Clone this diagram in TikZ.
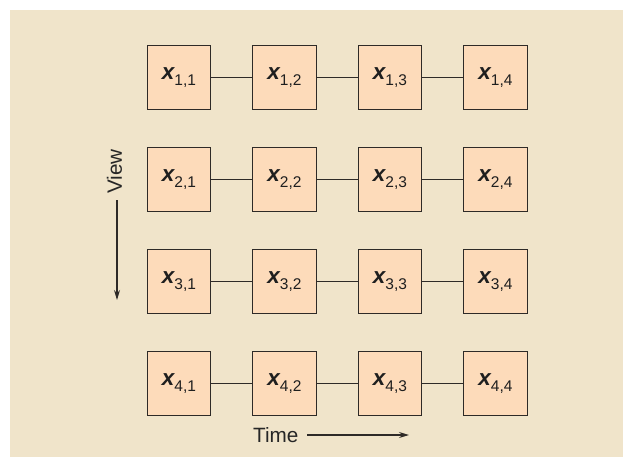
\documentclass[tikz,border=0pt]{standalone}
\usepackage{fontspec}
\setmainfont{Liberation Sans}
\usetikzlibrary{arrows.meta}
\definecolor{bgc}{HTML}{F0E4CA}
\definecolor{boxc}{HTML}{FDDBBA}
\definecolor{linec}{HTML}{2E2A27}
\newcommand{\xlab}[2]{{\fontsize{22.5}{22.5}\selectfont\bfseries\itshape x}\raisebox{-6pt}{\fontsize{15.5}{15.5}\selectfont #1,#2}}
\begin{document}
\begin{tikzpicture}[x=1pt,y=-1pt,
  cell/.style={draw=linec, line width=1.2pt, fill=boxc, minimum width=63.5pt, minimum height=63.5pt, inner sep=0pt, text=black!88},
  link/.style={draw=linec, line width=1.2pt},
  axisarrow/.style={draw=linec, line width=1.2pt, -{Stealth[length=10pt,width=6pt]}},
  lbl/.style={font=\fontsize{20.7}{20.7}\selectfont, text=black!85, inner sep=0pt}]
\useasboundingbox (0,0) rectangle (623,457);
\fill[bgc] (10,10) rectangle (623,457);
\foreach \r in {1,...,4}{
  \foreach \c in {1,...,4}{
    \node[cell] (n\r\c) at ({179+105.5*(\c-1)}, {77.5+102*(\r-1)}) {\xlab{\r}{\c}};
  }
  \draw[link] (n\r1) -- (n\r2);
  \draw[link] (n\r2) -- (n\r3);
  \draw[link] (n\r3) -- (n\r4);
}
\node[lbl, rotate=90] (view) at (114.5,171.5) {View};
\coordinate (vend) at (117,300);
\draw[axisarrow] (117,200) -- (vend);
\node[lbl, anchor=west] (time) at (253,435) {Time};
\coordinate (tend) at (409,435);
\draw[axisarrow] (307,435) -- (tend);
\end{tikzpicture}
\end{document}
